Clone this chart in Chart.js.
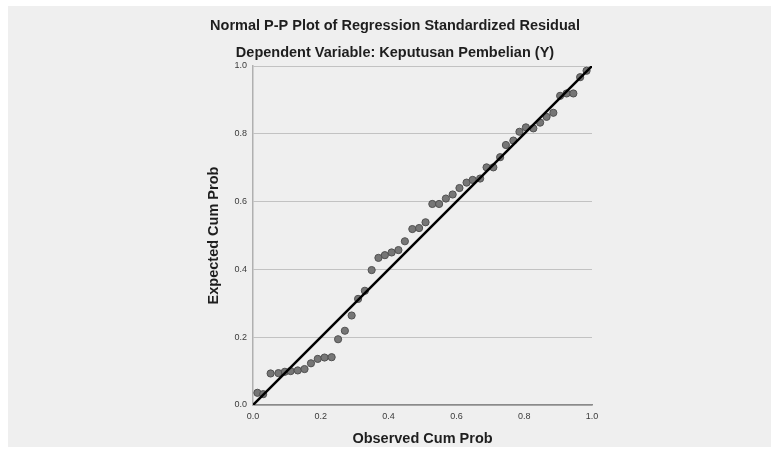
<!DOCTYPE html>
<html>
<head>
<meta charset="utf-8">
<script src="https://cdn.jsdelivr.net/npm/chart.js@4/dist/chart.umd.min.js"></script>
<style>
  html, body { margin: 0; padding: 0; background: #ffffff; }
  #wrap { position: absolute; left: 8px; top: 6px; width: 763px; height: 441px; background: #efefef; }
</style>
</head>
<body>
<div id="wrap"><canvas id="chart" width="763" height="441"></canvas></div>
<script>
// observed vs expected cumulative probability
const observed = [0.013, 0.030, 0.052, 0.075, 0.094, 0.111, 0.132, 0.152, 0.171, 0.191,
                  0.211, 0.232, 0.251, 0.271, 0.291, 0.310, 0.330, 0.350, 0.370, 0.389,
                  0.409, 0.429, 0.448, 0.470, 0.490, 0.509, 0.529, 0.549, 0.569, 0.589,
                  0.609, 0.630, 0.648, 0.670, 0.689, 0.709, 0.729, 0.746, 0.768, 0.786,
                  0.805, 0.827, 0.847, 0.866, 0.886, 0.906, 0.925, 0.945, 0.965, 0.984]
const expected = [0.036, 0.032, 0.093, 0.094, 0.098, 0.100, 0.102, 0.106, 0.123, 0.136,
                  0.140, 0.141, 0.194, 0.219, 0.264, 0.313, 0.337, 0.398, 0.434, 0.442,
                  0.450, 0.457, 0.483, 0.519, 0.522, 0.539, 0.593, 0.593, 0.609, 0.621,
                  0.640, 0.656, 0.664, 0.668, 0.701, 0.701, 0.731, 0.767, 0.780, 0.806,
                  0.819, 0.816, 0.833, 0.850, 0.862, 0.912, 0.919, 0.919, 0.967, 0.986]
const refLineX = [0, 1]
const refLineY = [0, 1]

const titleText = 'Normal P-P Plot of Regression Standardized Residual'
const subtitleText = 'Dependent Variable: Keputusan Pembelian (Y)'
const xTitle = 'Observed Cum Prob'
const yTitle = 'Expected Cum Prob'

const FONT = "'Liberation Sans', Arial, sans-serif"

const ctx = document.getElementById('chart').getContext('2d')
new Chart(ctx, {
    type: 'scatter',
    data: {
        datasets: [{
            type: 'line',
            data: refLineX.map((x, i) => ({ x: x, y: refLineY[i] })),
            borderColor: '#000000',
            borderWidth: 2.5,
            pointRadius: 0,
            fill: false,
            order: 0
        }, {
            data: observed.map((x, i) => ({ x: x, y: expected[i] })),
            backgroundColor: '#767676',
            borderColor: '#505050',
            borderWidth: 1,
            pointRadius: 3.6,
            order: 1
        }]
    },
    options: {
        responsive: false,
        animation: false,
        layout: { padding: { left: 190, right: 179, top: 0, bottom: 0 } },
        plugins: {
            legend: { display: false },
            tooltip: { enabled: false },
            title: {
                display: true,
                text: titleText,
                color: '#1e1e1e',
                font: { family: FONT, size: 14.5, weight: 'bold', lineHeight: 1.2 },
                padding: { top: 11.3, bottom: 0 }
            },
            subtitle: {
                display: true,
                text: subtitleText,
                color: '#1e1e1e',
                font: { family: FONT, size: 14.5, weight: 'bold', lineHeight: 1.2 },
                padding: { top: 9.6, bottom: 4.3 }
            }
        },
        scales: {
            x: {
                type: 'linear',
                min: 0,
                max: 1,
                afterFit: scale => { scale.height = 42 },
                ticks: {
                    stepSize: 0.2,
                    padding: 6,
                    color: '#3a3a3a',
                    font: { family: FONT, size: 9 },
                    callback: v => v.toFixed(1)
                },
                grid: { display: false, drawTicks: false },
                border: { display: true, color: '#8a8a8a', width: 1.5 },
                title: {
                    display: true,
                    text: xTitle,
                    color: '#1e1e1e',
                    font: { family: FONT, size: 14.5, weight: 'bold', lineHeight: 0.6 }
                }
            },
            y: {
                type: 'linear',
                min: 0,
                max: 1,
                afterFit: scale => { scale.width = 55 },
                ticks: {
                    stepSize: 0.2,
                    padding: 6,
                    color: '#3a3a3a',
                    font: { family: FONT, size: 9 },
                    callback: v => v.toFixed(1)
                },
                grid: { color: '#c2c2c2', lineWidth: 1, drawTicks: false },
                border: { display: true, color: '#b0b0b0', width: 1.5 },
                title: {
                    display: true,
                    text: yTitle,
                    color: '#1e1e1e',
                    padding: { top: 7.5, bottom: 0 },
                    font: { family: FONT, size: 14.5, weight: 'bold', lineHeight: 1.2 }
                }
            }
        }
    }
})
</script>
</body>
</html>
